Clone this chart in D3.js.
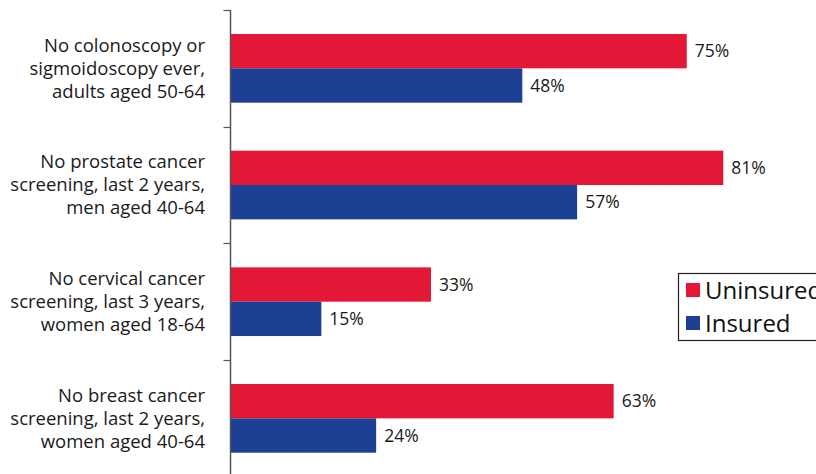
<!DOCTYPE html>
<html>
<head>
<meta charset="utf-8">
<script src="https://cdn.jsdelivr.net/npm/d3@7"></script>
<style>
  html, body { margin: 0; padding: 0; background: #fff; overflow: hidden; }
  svg { display: block; font-family: "Open Sans", "Noto Sans", sans-serif; }
</style>
</head>
<body>
<svg id="chart" width="816" height="474"></svg>
<script>
// Screening categories (each label split into lines)
const categories = [
  ["No colonoscopy or", "sigmoidoscopy ever,", "adults aged 50-64"],
  ["No prostate cancer", "screening, last 2 years,", "men aged 40-64"],
  ["No cervical cancer", "screening, last 3 years,", "women aged 18-64"],
  ["No breast cancer", "screening, last 2 years,", "women aged 40-64"]
];
const seriesNames = ["Uninsured", "Insured"];
const uninsured = [75, 81, 33, 63];
const insured = [48, 57, 15, 24];
const colors = ["#E31837", "#1D3F94"];

const svg = d3.select("#chart");
const left = 230;
const x = d3.scaleLinear().domain([0, 100]).range([left, 839]);
const y = d3.scaleBand().domain(d3.range(categories.length)).range([10, 476.7])
  .paddingInner(24 * 2 / 116.67).paddingOuter(24 / 116.67);
const ySub = d3.scaleBand().domain(seriesNames).range([0, y.bandwidth()]);

const rows = categories.map((c, i) => ({ i, values: [uninsured[i], insured[i]] }));

const g = svg.append("g");
rows.forEach(r => {
  r.values.forEach((v, k) => {
    const yy = y(r.i) + ySub(seriesNames[k]);
    g.append("rect")
      .attr("x", x(0)).attr("y", yy)
      .attr("width", x(v) - x(0)).attr("height", ySub.bandwidth())
      .attr("fill", colors[k]);
    g.append("text")
      .attr("x", x(v) + 8).attr("y", yy + ySub.bandwidth() / 2)
      .attr("dy", "0.35em")
      .attr("font-size", 17.5).attr("fill", "#1a1a1a")
      .text(v + "%");
  });
});

// Category axis with ticks at the band boundaries
const axisX = left + 0.5;
svg.append("line").attr("x1", axisX).attr("x2", axisX).attr("y1", 10).attr("y2", 474)
  .attr("stroke", "#555").attr("stroke-width", 1.5);
const step = y.step();
d3.range(categories.length).forEach(k => {
  const ty = Math.round(10 + k * step) + 0.5;
  svg.append("line").attr("x1", axisX - 7).attr("x2", axisX).attr("y1", ty).attr("y2", ty)
    .attr("stroke", "#555").attr("stroke-width", 1.2);
});

// Category labels
categories.forEach((lines, i) => {
  const cy = y(i) + y.bandwidth() / 2;
  const t = svg.append("text").attr("text-anchor", "end").attr("font-size", 18.5).attr("fill", "#1a1a1a");
  lines.forEach((ln, j) => {
    t.append("tspan").attr("x", 205).attr("y", cy + (j - 1) * 23).attr("dy", "0.35em").text(ln);
  });
});

// Legend
const lg = svg.append("g").attr("transform", "translate(678,273)");
lg.append("rect").attr("x", 0.5).attr("y", 0.5).attr("width", 160).attr("height", 67)
  .attr("fill", "#fff").attr("stroke", "#222").attr("stroke-width", 1.2);
seriesNames.forEach((name, k) => {
  lg.append("rect").attr("x", 8).attr("y", 10 + k * 33).attr("width", 14).attr("height", 14)
    .attr("fill", colors[k]);
  lg.append("text").attr("x", 27).attr("y", 17 + k * 33).attr("dy", "0.36em")
    .attr("font-size", 24).attr("fill", "#111").text(name);
});
</script>
</body>
</html>
